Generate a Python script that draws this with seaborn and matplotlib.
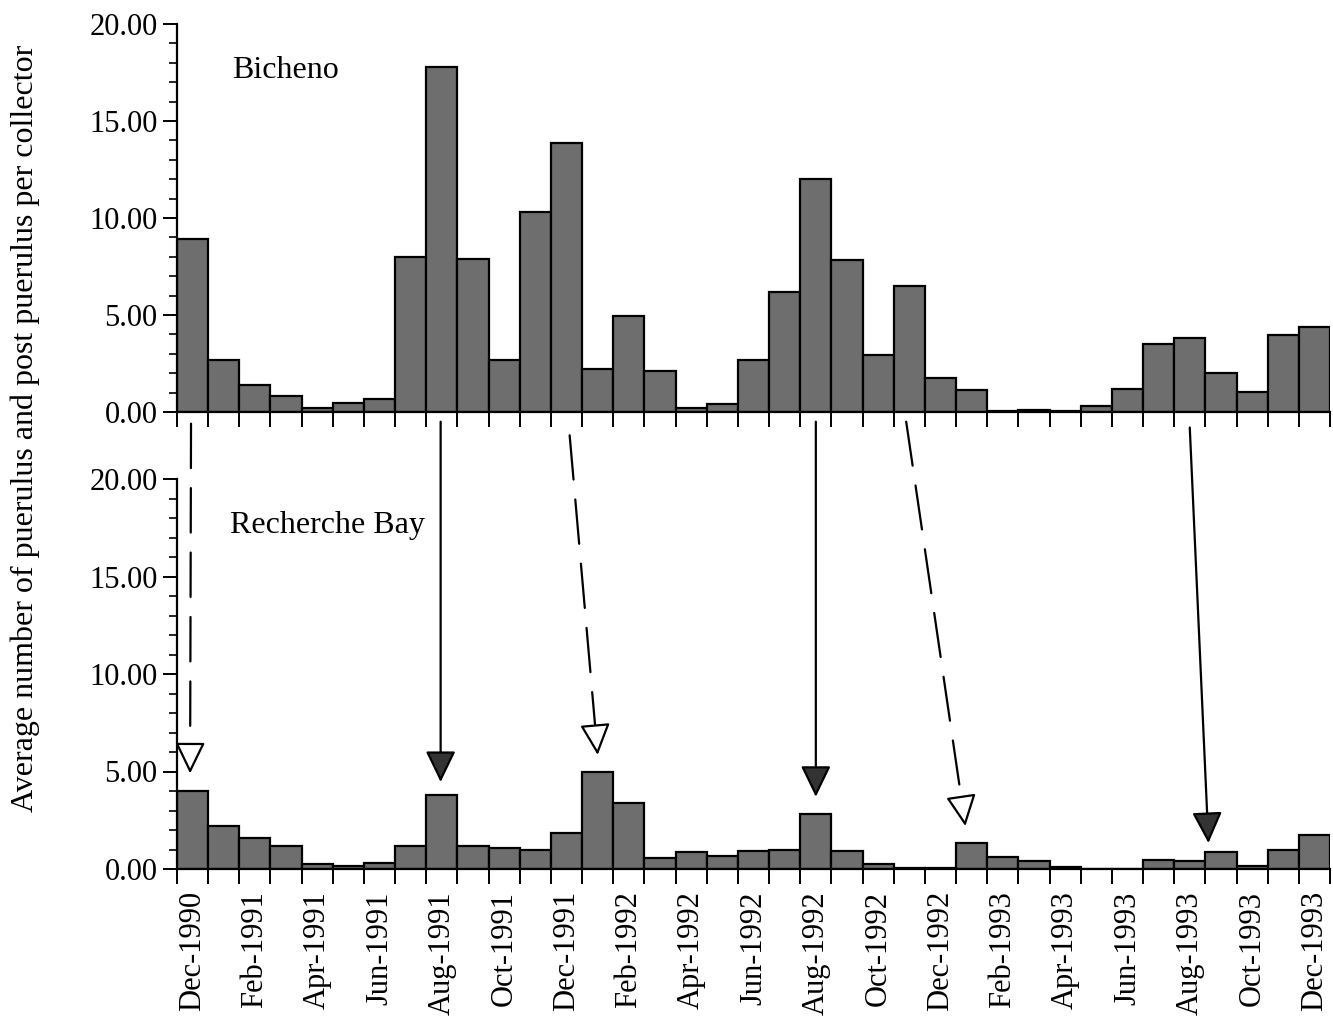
import numpy as np
import pandas as pd
import matplotlib
matplotlib.use('Agg')
import matplotlib.pyplot as plt
import seaborn as sns
from matplotlib.ticker import MultipleLocator, FormatStrFormatter
from matplotlib.patches import FancyArrowPatch

# ---- data ----
months = list(pd.date_range('1990-12-01', periods=37, freq='MS').strftime('%b-%Y'))
bicheno = [8.9, 2.7, 1.4, 0.85, 0.2, 0.45, 0.65, 8.0, 17.8, 7.9, 2.7, 10.3, 13.85,
           2.2, 4.95, 2.1, 0.2, 0.4, 2.7, 6.2, 12.0, 7.85, 2.95, 6.5, 1.75, 1.15,
           0.05, 0.1, 0.05, 0.3, 1.2, 3.5, 3.8, 2.0, 1.05, 3.95, 4.4]
recherche = [4.0, 2.2, 1.6, 1.2, 0.25, 0.15, 0.3, 1.2, 3.8, 1.2, 1.1, 0.95, 1.85,
             5.0, 3.4, 0.55, 0.85, 0.65, 0.9, 1.0, 2.8, 0.9, 0.25, 0.05, 0.05, 1.35,
             0.6, 0.4, 0.08, 0.02, 0.02, 0.45, 0.4, 0.85, 0.15, 1.0, 1.75]
site_names = ['Bicheno', 'Recherche Bay']

# arrows linking top-panel months to bottom-panel months
arrow_start_x = [-0.05, 7.96, 12.1, 20.0, 22.9, 32.0]
arrow_start_y = [-0.6, -0.5, -1.2, -0.5, -0.5, -0.8]
arrow_end_x = [-0.08, 7.96, 13.0, 20.0, 24.8, 32.6]
arrow_end_y = [4.9, 4.46, 5.85, 3.7, 2.2, 1.33]
arrow_dashed = [True, False, True, False, True, False]

sns.set_style('ticks')
plt.rcParams['font.family'] = ['Liberation Serif', 'DejaVu Serif']
plt.rcParams['text.color'] = 'black'
plt.rcParams['xtick.color'] = 'black'
plt.rcParams['ytick.color'] = 'black'
plt.rcParams['axes.edgecolor'] = 'black'

W, H = 1333, 1031
fig = plt.figure(figsize=(W / 100, H / 100), dpi=100)
ax_top = fig.add_axes([177 / W, 1 - 412 / H, 1153 / W, 388 / H])
ax_bot = fig.add_axes([177 / W, 1 - 869 / H, 1153 / W, 390 / H])

bar_color = '#6e6e6e'
for ax, vals, name, tx in [(ax_top, bicheno, site_names[0], 1.26),
                           (ax_bot, recherche, site_names[1], 1.2)]:
    df = pd.DataFrame({'month': months, 'value': vals})
    sns.barplot(data=df, x='month', y='value', order=months, color=bar_color,
                saturation=1, width=1.0, edgecolor='black', linewidth=1.6, ax=ax)
    ax.set_xlim(-0.5, 36.5)
    ax.set_ylim(0, 20)
    ax.set_xlabel('')
    ax.set_ylabel('')
    for s in ['top', 'right']:
        ax.spines[s].set_visible(False)
    for s in ['left', 'bottom']:
        ax.spines[s].set_linewidth(1.6)
    ax.yaxis.set_major_locator(MultipleLocator(5))
    ax.yaxis.set_minor_locator(MultipleLocator(1))
    ax.yaxis.set_major_formatter(FormatStrFormatter('%.2f'))
    ax.tick_params(axis='y', which='major', direction='out', length=10, width=1.4,
                   labelsize=22, pad=4)
    ax.tick_params(axis='y', which='minor', direction='out', length=6, width=1.2)
    ax.set_xticks(np.arange(-0.5, 37, 1), minor=True)
    ax.set_xticks(np.arange(0, 37, 2))
    ax.tick_params(axis='x', which='minor', direction='out', length=11, width=1.4)
    ax.tick_params(axis='x', which='major', length=0, labelsize=22, pad=16)
    ax.text(tx, 17.6, name, fontsize=23, va='center', ha='left', color='black')

ax_top.set_xticklabels([''] * len(ax_top.get_xticks()))
ax_bot.set_xticklabels(months[::2], rotation=90)

fig.text(25 / W, 1 - 428 / H, 'Average number of puerulus and post puerulus per collector',
         rotation=90, fontsize=23, ha='center', va='center', color='black')

# arrows
inv = fig.transFigure.inverted()
for sx, sy, ex, ey, dashed in zip(arrow_start_x, arrow_start_y, arrow_end_x, arrow_end_y, arrow_dashed):
    p0 = ax_top.transData.transform((sx, sy))
    p1 = ax_bot.transData.transform((ex, ey))
    d = p1 - p0
    u = d / np.hypot(*d)
    base = p1 - u * 27
    ls = (0, (20, 9)) if dashed else '-'
    line = FancyArrowPatch(inv.transform(p0), inv.transform(base), transform=fig.transFigure,
                           arrowstyle='-', linestyle=ls, lw=1.6, color='black',
                           shrinkA=0, shrinkB=0)
    fig.add_artist(line)
    head = FancyArrowPatch(inv.transform(base), inv.transform(p1), transform=fig.transFigure,
                           arrowstyle='-|>,head_length=0.97,head_width=0.47', mutation_scale=20,
                           lw=1.6, ec='black', fc='white' if dashed else '#333333',
                           shrinkA=0, shrinkB=0)
    fig.add_artist(head)

fig.savefig('out.png', dpi=100, facecolor='white')
